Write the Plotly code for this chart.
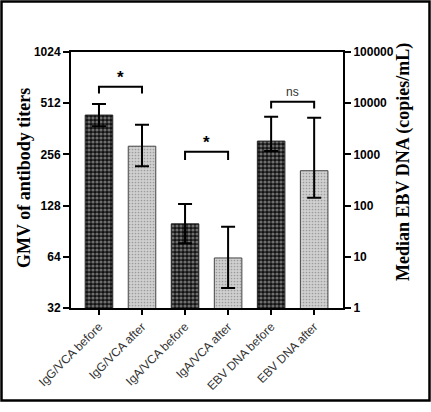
import math
import plotly.graph_objects as go

categories = ["IgG/VCA before", "IgG/VCA after", "IgA/VCA before",
              "IgA/VCA after", "EBV DNA before", "EBV DNA after"]
# GMV of antibody titers (left axis)
titer_vals = [436, 286, 100, 63]
titer_err_up = [70, 97, 31, 33]
titer_err_down = [61, 68, 23, 21]
# Median EBV DNA copies/mL (right axis)
dna_vals = [1820, 480]
dna_err_up = [3630, 4720]
dna_err_down = [650, 338]

left_ticks = [32, 64, 128, 256, 512, 1024]
right_ticks = [1, 10, 100, 1000, 10000, 100000]

# significance brackets: (cat a, cat b, bracket level, leg end, label, axis)
brackets = [
    (0, 1, 640, 584, "*", "y"),
    (2, 3, 265, 237, "*", "y"),
    (4, 5, 10700, 7900, "ns", "y2"),
]

dark = dict(color="#333", line=dict(color="#222", width=1),
            pattern=dict(shape=".", fillmode="replace", bgcolor="#121212",
                         fgcolor="#6e6e6e", size=4, solidity=0.5))
light = dict(color="#c4c4c4", line=dict(color="#444", width=1),
             pattern=dict(shape=".", fillmode="replace", bgcolor="#d0d0d0",
                          fgcolor="#9c9c9c", size=3, solidity=0.25))
err_style = dict(type="data", visible=True, color="black", thickness=2, width=7)

fig = go.Figure()
fig.add_trace(go.Bar(x=[categories[0], categories[2]], y=[titer_vals[0], titer_vals[2]],
                     width=0.64, marker=dark, yaxis="y",
                     error_y=dict(array=[titer_err_up[0], titer_err_up[2]],
                                  arrayminus=[titer_err_down[0], titer_err_down[2]], **err_style)))
fig.add_trace(go.Bar(x=[categories[1], categories[3]], y=[titer_vals[1], titer_vals[3]],
                     width=0.64, marker=light, yaxis="y",
                     error_y=dict(array=[titer_err_up[1], titer_err_up[3]],
                                  arrayminus=[titer_err_down[1], titer_err_down[3]], **err_style)))
fig.add_trace(go.Bar(x=[categories[4]], y=[dna_vals[0]], width=0.64, marker=dark, yaxis="y2",
                     error_y=dict(array=[dna_err_up[0]], arrayminus=[dna_err_down[0]], **err_style)))
fig.add_trace(go.Bar(x=[categories[5]], y=[dna_vals[1]], width=0.64, marker=light, yaxis="y2",
                     error_y=dict(array=[dna_err_up[1]], arrayminus=[dna_err_down[1]], **err_style)))

for a, b, lvl, leg, label, ax in brackets:
    fig.add_trace(go.Scatter(x=[categories[a], categories[a], categories[b], categories[b]],
                             y=[leg, lvl, lvl, leg], mode="lines", yaxis=ax,
                             line=dict(color="black", width=2), hoverinfo="skip"))
    star = label == "*"
    fig.add_annotation(x=(a + b) / 2, y=math.log10(lvl), xref="x", yref=ax, text=label,
                       showarrow=False, yanchor="bottom", yshift=-2 if star else 1,
                       font=dict(family="Liberation Sans", size=17 if star else 12,
                                 color="black" if star else "#333",
                                 weight="bold" if star else "normal"))

fig.update_layout(
    width=431, height=412,
    margin=dict(l=71, r=88, t=52, b=104),
    paper_bgcolor="white", plot_bgcolor="white",
    barmode="overlay", showlegend=False,
    xaxis=dict(type="category", categoryorder="array", categoryarray=categories,
               range=[-0.65, 5.67], showline=True, linecolor="black", linewidth=2,
               mirror=True, ticks="outside", ticklen=5, tickwidth=2, tickcolor="black",
               tickangle=-45, showgrid=False,
               tickfont=dict(family="Liberation Sans", size=12, color="#333")),
    yaxis=dict(type="log", range=[1.50515, 3.0103], tickvals=left_ticks,
               ticktext=[str(v) for v in left_ticks], showline=True, linecolor="black",
               linewidth=2, ticks="outside", ticklen=6, tickwidth=2, tickcolor="black",
               showgrid=False, zeroline=False,
               tickfont=dict(family="Liberation Sans", size=12, color="black", weight="bold")),
    yaxis2=dict(type="log", range=[0, 5], overlaying="y", side="right",
                tickvals=right_ticks, ticktext=[str(v) for v in right_ticks],
                showline=True, linecolor="black", linewidth=2, ticks="outside",
                ticklen=6, tickwidth=2, tickcolor="black", showgrid=False, zeroline=False,
                tickfont=dict(family="Liberation Sans", size=12, color="black", weight="bold")),
)

fig.add_annotation(text="GMV of antibody titers", xref="paper", yref="paper",
                   x=(24 - 71) / 272, y=(308 - 178) / 256, textangle=-90, showarrow=False,
                   xanchor="center", yanchor="middle",
                   font=dict(family="Liberation Serif", size=18, color="black", weight="bold"))
fig.add_annotation(text="Median EBV DNA (copies/mL)", xref="paper", yref="paper",
                   x=(403 - 71) / 272, y=(308 - 162) / 256, textangle=-90, showarrow=False,
                   xanchor="center", yanchor="middle",
                   font=dict(family="Liberation Serif", size=18, color="black", weight="bold"))

fig.add_shape(type="rect", xref="paper", yref="paper",
              x0=(1.5 - 71) / 272, x1=(429.5 - 71) / 272,
              y0=(308 - 400.5) / 256, y1=(308 - 1.5) / 256,
              line=dict(color="black", width=2.5), fillcolor="rgba(0,0,0,0)", layer="above")

fig.write_html("out.html", config={"displayModeBar": False},
               post_script="document.body.style.margin='0';")
